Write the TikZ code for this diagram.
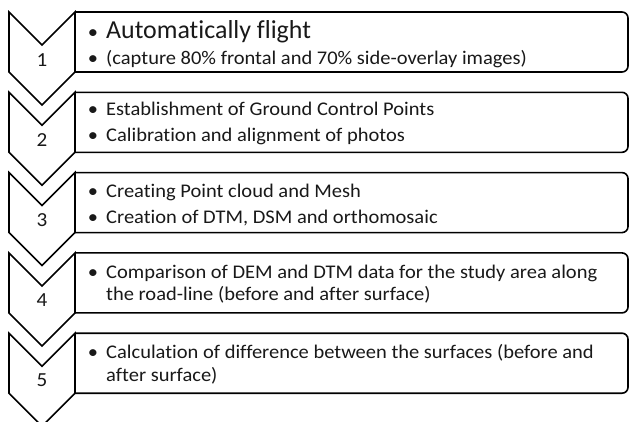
\documentclass[tikz,border=0pt]{standalone}
\usepackage{fontspec}
\setmainfont{Carlito}[FakeStretch=1.06,Ligatures=NoCommon]
\newfontfamily\plaincarlito{Carlito}[Ligatures=NoCommon]
\begin{document}
\begin{tikzpicture}[x=1bp,y=-1bp,
  shape line/.style={draw=black,line width=1.6bp,line join=miter},
  txt/.style={anchor=base west,inner sep=0pt,text=black!90,font=\fontsize{19.4}{22}\selectfont},
  bigtxt/.style={txt,font=\plaincarlito\fontsize{26}{30}\selectfont},
  bul/.style={anchor=base,inner sep=0pt,text=black!90,font=\fontsize{19.4}{22}\selectfont},
  num/.style={anchor=center,inner sep=0pt,text=black!90,font=\fontsize{20}{22}\selectfont}]
\useasboundingbox (0,0) rectangle (629,421);
\clip (0,0) rectangle (629,421);
\fill[white] (0,0) rectangle (629,421);
% steps
\foreach \i/\t in {1/12,2/92.3,3/172.6,4/252.9,5/333.2}{
  \pgfmathsetmacro{\b}{\t+60}
  \pgfmathsetmacro{\n}{\t+33}
  \pgfmathsetmacro{\p}{\b+33}
  \draw[shape line] (75,\b) [rounded corners=6bp] -- (628,\b) -- (628,\t) -- (75,\t);
  \draw[shape line] (9,\t) -- (42,\n) -- (75,\t) -- (75,\b) -- (42,\p) -- (9,\b) -- cycle;
}
\node[num] (n1) at (42,60) {1};
\node[num] (n2) at (42,140) {2};
\node[num] (n3) at (42,220) {3};
\node[num] (n4) at (42,300) {4};
\node[num] (n5) at (42,380) {5};
% box 1
\node[bul] (b1a) at (93,38) {•};
\node[bigtxt] (t1a) at (106,38) {Automatically flight};
\node[bul] (b1b) at (93,64) {•};
\node[txt] (t1b) at (106,64) {(capture 80\% frontal and 70\% side-overlay images)};
% box 2
\node[bul] (b2a) at (93,115.7) {•};
\node[txt] (t2a) at (106,115.7) {Establishment of Ground Control Points};
\node[bul] (b2b) at (93,141.7) {•};
\node[txt] (t2b) at (106,141.7) {Calibration and alignment of photos};
% box 3
\node[bul] (b3a) at (93,197) {•};
\node[txt] (t3a) at (106,197) {Creating Point cloud and Mesh};
\node[bul] (b3b) at (93,223) {•};
\node[txt] (t3b) at (106,223) {Creation of DTM, DSM and orthomosaic};
% box 4
\node[bul] (b4a) at (93,278) {•};
\node[txt] (t4a) at (106,278) {Comparison of DEM and DTM data for the study area along};
\node[txt] (t4b) at (106,300) {the road-line (before and after surface)};
% box 5
\node[bul] (b5a) at (93,358) {•};
\node[txt] (t5a) at (106,358) {Calculation of difference between the surfaces (before and};
\node[txt] (t5b) at (106,381) {after surface)};
\end{tikzpicture}
\end{document}
